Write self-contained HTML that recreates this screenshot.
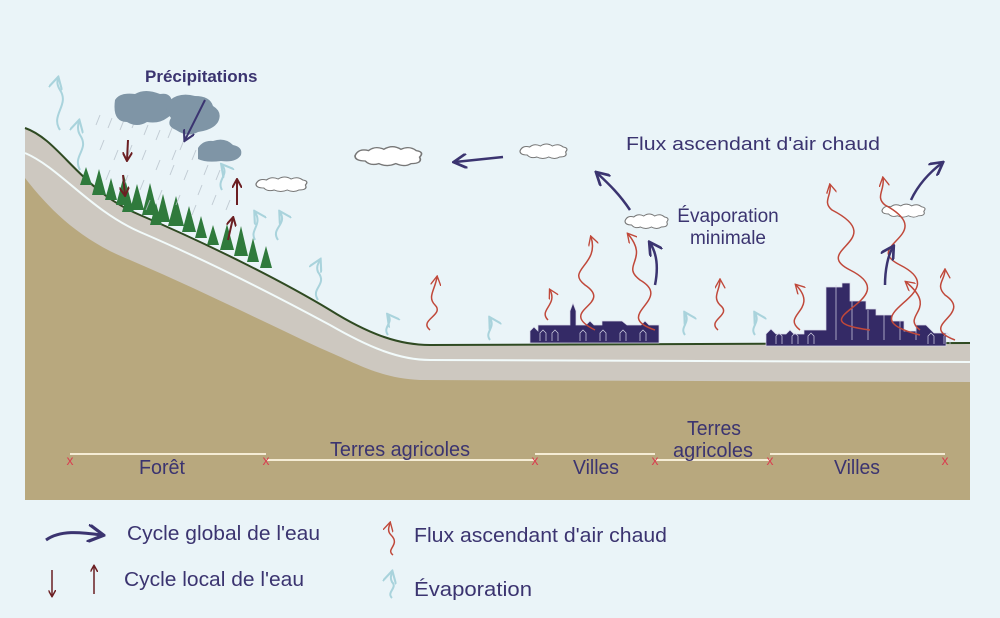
<!DOCTYPE html>
<html><head><meta charset="utf-8"><style>
html,body{margin:0;padding:0;background:#eaf4f8;}
svg{display:block}
text{font-family:"Liberation Sans",sans-serif;fill:#3b3470;}
</style></head><body>
<svg width="1000" height="618" viewBox="0 0 1000 618" xmlns="http://www.w3.org/2000/svg">
<defs>
<marker id="ab" viewBox="0 0 10 10" refX="8" refY="5" markerWidth="6" markerHeight="6" orient="auto"><path d="M0,0 L9,5 L0,10" fill="none" stroke="#3b3470" stroke-width="1.8"/></marker>
<marker id="ar" viewBox="0 0 10 10" refX="8" refY="5" markerWidth="7" markerHeight="7" orient="auto"><path d="M0,0 L9,5 L0,10" fill="none" stroke="#c0483a" stroke-width="1.3"/></marker>
<marker id="al" viewBox="0 0 10 10" refX="8" refY="5" markerWidth="7" markerHeight="7" orient="auto"><path d="M0,0 L9,5 L0,10" fill="none" stroke="#a9d3dc" stroke-width="1.5"/></marker>
<marker id="ad" viewBox="0 0 10 10" refX="8" refY="5" markerWidth="5" markerHeight="5" orient="auto"><path d="M0,0 L9,5 L0,10" fill="none" stroke="#6b1e22" stroke-width="2"/></marker>
<g id="cl"><path d="M0,6 q2,-6 8,-4 q4,-4 9,-1 q5,-4 10,0 q5,-3 9,1 q5,1 2,5 q2,5 -5,5 q-4,3 -9,0 q-5,3 -10,0 q-5,2 -8,-2 q-6,0 -6,-4z" fill="#fff" stroke="#777" stroke-width="1"/></g>
</defs>
<rect width="1000" height="618" fill="#eaf4f8"/>
<!-- ground -->
<path d="M25,128 C60,140 80,190 140,215 C210,245 280,280 330,310 C370,335 400,345 430,345 L970,343 L970,500 L25,500Z" fill="#b8a87e"/>
<path d="M25,128 C60,140 80,190 140,215 C210,245 280,280 330,310 C370,335 400,345 430,345 L970,343 L970,382 L420,380 C380,378 360,365 320,348 C260,320 200,290 130,260 C80,240 50,210 25,178Z" fill="#cdc8c0"/>
<path d="M25,153 C60,168 90,210 140,232 C210,262 280,298 330,325 C370,348 400,360 430,360 L970,362" fill="none" stroke="#f2fbfb" stroke-width="2"/>
<path d="M25,128 C60,140 80,190 140,215 C210,245 280,280 330,310 C370,335 400,345 430,345 L970,343" fill="none" stroke="#2f4a22" stroke-width="2"/>
<!-- trees -->
<g fill="#2f7a3c">
<path d="M80,185l6,-18l6,18z M92,195l7,-26l7,26z M105,200l6,-22l6,22z M116,205l8,-30l8,30z M130,210l7,-26l7,26z M142,215l8,-32l8,32z M156,222l7,-28l7,28z M168,226l8,-30l8,30z M182,232l7,-26l7,26z M195,238l6,-22l6,22z M207,245l6,-20l6,20z M220,250l7,-26l7,26z M234,256l7,-30l7,30z M247,262l6,-24l6,24z M260,268l6,-22l6,22z M150,225l6,-22l6,22z M122,212l6,-20l6,20z"/>
</g>
<!-- rain -->
<g stroke="#b9c3cc" stroke-width="1" opacity="0.8">
<path d="M100,115l-4,10M112,118l-4,10M124,120l-4,10M136,118l-4,10M148,125l-4,10M160,130l-4,10M172,128l-4,10M184,140l-4,10M196,150l-4,10M208,165l-4,10M220,170l-4,10M104,140l-4,10M118,150l-4,10M132,145l-4,10M146,150l-4,10M160,160l-4,10M174,165l-4,10M188,170l-4,10M202,185l-4,10M216,195l-4,10M110,170l-4,10M128,175l-4,10M144,180l-4,10M162,190l-4,10M180,195l-4,10M196,205l-4,10M230,200l-4,10M176,150l-4,10M150,200l-4,10"/>
</g>
<!-- dark clouds -->
<g fill="#7f95a6">
<path d="M115,100 q5,-8 20,-6 q10,-6 25,0 q12,-2 12,10 q5,8 -5,14 q-8,6 -20,4 q-10,6 -20,0 q-15,0 -12,-22z"/>
<path d="M170,100 q10,-8 25,-4 q15,0 18,10 q10,6 5,16 q-5,8 -20,10 q-10,6 -22,-2 q-10,-4 -5,-12 q-8,-10 -1,-18z"/>
<path d="M198,148 q5,-8 15,-7 q12,-4 20,4 q10,2 8,10 q-5,8 -20,6 q-15,2 -23,-2z"/>
</g>
<path d="M205,100 L185,140" stroke="#3b3470" stroke-width="2" fill="none" marker-end="url(#ab)"/>
<path d="M128,140 L127,160" stroke="#6b1e22" stroke-width="2" marker-end="url(#ad)"/>
<path d="M123,175 L125,195" stroke="#6b1e22" stroke-width="2" marker-end="url(#ad)"/>
<path d="M237,205 L237,180" stroke="#6b1e22" stroke-width="2" marker-end="url(#ad)"/>
<path d="M228,240 L233,218" stroke="#6b1e22" stroke-width="2" marker-end="url(#ad)"/>
<!-- white clouds -->
<use href="#cl" transform="translate(256,178) scale(1.3,1)"/>
<use href="#cl" transform="translate(355,148) scale(1.7,1.3)"/>
<use href="#cl" transform="translate(520,145) scale(1.2,1)"/>
<use href="#cl" transform="translate(625,215) scale(1.1,1)"/>
<use href="#cl" transform="translate(882,205) scale(1.1,0.9)"/>
<!-- evaporation -->
<g fill="none" stroke="#a9d3dc" stroke-width="2" marker-end="url(#al)">
<path d="M60,130 c-10,-15 10,-25 0,-40 c-3,-5 -3,-8 -2,-12"/>
<path d="M80,170 c-8,-15 10,-20 0,-35 c-3,-5 -2,-10 -1,-14"/>
<path d="M222,190 c-6,-10 8,-15 0,-25"/>
<path d="M255,240 c-6,-10 8,-15 0,-28"/>
<path d="M278,240 c-8,-12 10,-15 2,-28"/>
<path d="M318,300 c-8,-12 10,-15 0,-28 c-2,-5 0,-8 2,-12"/>
<path d="M388,335 c-6,-8 6,-12 0,-20"/>
<path d="M490,340 c-6,-8 6,-12 0,-22"/>
<path d="M685,335 c-6,-8 6,-12 0,-22"/>
<path d="M755,335 c-6,-8 6,-12 0,-22"/>
</g>
<!-- cities -->
<g fill="#342a66" stroke="#d8d8e8" stroke-width="0.7">
<path d="M530,343 v-12 l4,-4 l4,4 v-6 h32 v-14 l3,-8 l3,8 v14 h10 l4,-4 l4,4 h8 v-4 h20 l5,4 h14 l4,-4 l4,4 h10 v18z"/>
<path d="M540,341 v-8 l3,-3 l3,3 v8 M552,341 v-8 l3,-3 l3,3 v8 M580,341 v-8 l3,-3 l3,3 v8 M600,341 v-8 l3,-3 l3,3 v8 M620,341 v-8 l3,-3 l3,3 v8 M640,341 v-8 l3,-3 l3,3 v8" fill="none"/>
<path d="M766,346 v-12 l5,-5 l5,5 h10 l4,-4 l4,4 h10 v-4 h22 v-43 h16 v-4 h8 v18 h16 v8 h10 v6 h16 v6 h12 v10 h12 v-6 h10 l8,8 h12 v13z"/>
<path d="M836,340 v-55 M852,340 v-40 M868,340 v-30 M884,340 v-25 M900,340 v-20 M916,340 v-18 M776,344 v-8 l3,-3 l3,3 v8 M792,344 v-8 l3,-3 l3,3 v8 M808,344 v-8 l3,-3 l3,3 v8 M928,344 v-8 l3,-3 l3,3 v8 M944,344 v-8 l3,-3 l3,3 v8" fill="none"/>
</g>
<!-- hot air red -->
<g fill="none" stroke="#c0483a" stroke-width="1.5" marker-end="url(#ar)">
<path d="M430,330 c-12,-10 15,-15 5,-25 c-8,-8 0,-15 2,-28"/>
<path d="M548,320 c-10,-10 10,-15 2,-30"/>
<path d="M595,330 c-40,-20 20,-25 -10,-45 c-20,-15 15,-20 6,-48"/>
<path d="M655,330 c-45,-15 20,-30 -15,-50 c-20,-15 10,-20 -12,-46"/>
<path d="M718,330 c-12,-10 15,-15 2,-25 c-8,-8 0,-15 0,-25"/>
<path d="M800,330 c-20,-15 20,-20 -4,-45"/>
<path d="M870,330 c-80,-10 40,-30 -20,-60 c-40,-20 40,-30 -18,-60 c-10,-8 0,-15 -2,-25"/>
<path d="M920,335 c-80,-20 40,-40 -20,-70 c-40,-20 40,-30 -15,-60 c-10,-8 0,-15 -2,-27"/>
<path d="M955,340 c-40,-15 20,-25 -10,-45 c-10,-10 0,-15 0,-25"/>
<path d="M920,330 c-20,-15 20,-20 -14,-48"/>
</g>
<!-- global arrows -->
<g fill="none" stroke="#3b3470" stroke-width="2.5" marker-end="url(#ab)">
<path d="M503,157 L455,162"/>
<path d="M630,210 C620,195 610,185 597,173"/>
<path d="M655,285 C658,270 658,255 650,243"/>
<path d="M885,285 C885,270 888,255 893,247"/>
<path d="M911,200 C918,185 930,172 942,163"/>
</g>
<!-- texts -->
<text x="145" y="82" font-size="17" font-weight="bold">Précipitations</text>
<text x="626" y="150" font-size="18" textLength="254" lengthAdjust="spacingAndGlyphs">Flux ascendant d'air chaud</text>
<text x="728" y="222" font-size="19" text-anchor="middle">Évaporation</text>
<text x="728" y="244" font-size="19" text-anchor="middle">minimale</text>
<!-- zones -->
<g stroke="#f5ecd5" stroke-width="2">
<path d="M70,454H266M266,460H535M535,454H655M655,460H770M770,454H945"/>
</g>
<g font-size="14" text-anchor="middle">
<text x="70" y="465" style="fill:#d84050">x</text><text x="266" y="465" style="fill:#d84050">x</text><text x="535" y="465" style="fill:#d84050">x</text><text x="655" y="465" style="fill:#d84050">x</text><text x="770" y="465" style="fill:#d84050">x</text><text x="945" y="465" style="fill:#d84050">x</text>
</g>
<g font-size="20" text-anchor="middle">
<text x="162" y="474" textLength="46" lengthAdjust="spacingAndGlyphs">Forêt</text>
<text x="400" y="456" textLength="140" lengthAdjust="spacingAndGlyphs">Terres agricoles</text>
<text x="596" y="474" textLength="46" lengthAdjust="spacingAndGlyphs">Villes</text>
<text x="714" y="435" textLength="54" lengthAdjust="spacingAndGlyphs">Terres</text>
<text x="713" y="457" textLength="80" lengthAdjust="spacingAndGlyphs">agricoles</text>
<text x="857" y="474" textLength="46" lengthAdjust="spacingAndGlyphs">Villes</text>
<text x="127" y="540" text-anchor="start" textLength="193" lengthAdjust="spacingAndGlyphs">Cycle global de l'eau</text>
<text x="124" y="586" text-anchor="start" textLength="180" lengthAdjust="spacingAndGlyphs">Cycle local de l'eau</text>
<text x="414" y="542" text-anchor="start" textLength="253" lengthAdjust="spacingAndGlyphs">Flux ascendant d'air chaud</text>
<text x="414" y="596" text-anchor="start" textLength="118" lengthAdjust="spacingAndGlyphs">Évaporation</text>
</g>
<!-- legend icons -->
<path d="M46,540 C60,530 80,532 102,535" fill="none" stroke="#3b3470" stroke-width="3" marker-end="url(#ab)"/>
<path d="M52,570 L52,596" stroke="#6b1e22" stroke-width="1.5" marker-end="url(#ad)"/>
<path d="M94,594 L94,566" stroke="#6b1e22" stroke-width="1.5" marker-end="url(#ad)"/>
<path d="M393,555 c-8,-6 8,-10 -2,-20 c-4,-4 -2,-8 -1,-12" fill="none" stroke="#c0483a" stroke-width="1.5" marker-end="url(#ar)"/>
<path d="M392,598 c-6,-6 6,-10 0,-16 c-2,-4 -1,-6 0,-10" fill="none" stroke="#a9d3dc" stroke-width="2" marker-end="url(#al)"/>
</svg>
</body></html>
